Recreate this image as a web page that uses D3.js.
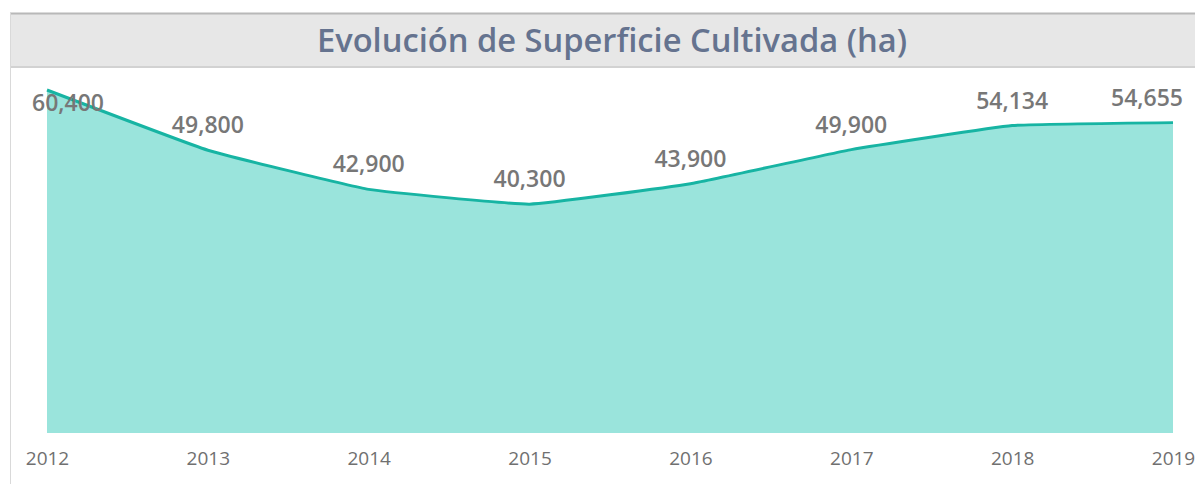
<!DOCTYPE html>
<html>
<head>
<meta charset="utf-8">
<script src="https://cdn.jsdelivr.net/npm/d3@7"></script>
<style>
  body { margin: 0; background: #fff; }
</style>
</head>
<body>
<div id="chart"></div>
<script>
// data
var years = ['2012', '2013', '2014', '2015', '2016', '2017', '2018', '2019'];
var hectares = [60400, 49800, 42900, 40300, 43900, 49900, 54134, 54655];

var svgWidth = 1195;
var svgHeight = 484;

var svg = d3.select('#chart')
    .append('svg')
    .attr('width', svgWidth)
    .attr('height', svgHeight)
    .style('font-family', "'Open Sans', 'Noto Sans', sans-serif");

// title band
svg.append('rect')
    .attr('x', 10).attr('y', 13)
    .attr('width', svgWidth).attr('height', 54)
    .attr('fill', '#e7e7e7');
svg.append('line')
    .attr('x1', 10).attr('x2', svgWidth).attr('y1', 13.5).attr('y2', 13.5)
    .attr('stroke', '#b8b8b8').attr('stroke-width', 2);
svg.append('line')
    .attr('x1', 10).attr('x2', svgWidth).attr('y1', 67).attr('y2', 67)
    .attr('stroke', '#d2d2d2').attr('stroke-width', 2);
svg.append('line')
    .attr('x1', 10.5).attr('x2', 10.5).attr('y1', 13).attr('y2', svgHeight)
    .attr('stroke', '#d9d9d9').attr('stroke-width', 1);

svg.append('text')
    .attr('x', 317).attr('y', 52)
    .attr('textLength', 590)
    .attr('lengthAdjust', 'spacingAndGlyphs')
    .style('font-size', '32px')
    .style('font-weight', '600')
    .style('fill', '#65738f')
    .text('Evolución de Superficie Cultivada (ha)');

// scales
var xScale = d3.scalePoint()
    .domain(years)
    .range([47, 1173]);

var yScale = d3.scaleLinear()
    .domain([0, 60400])
    .range([433, 90]);

var data = years.map(function(y, i) { return { year: y, value: hectares[i] }; });

var area = d3.area()
    .x(d => xScale(d.year))
    .y0(yScale(0))
    .y1(d => yScale(d.value))
    .curve(d3.curveCardinal.tension(0.7));

var line = d3.line()
    .x(d => xScale(d.year))
    .y(d => yScale(d.value))
    .curve(d3.curveCardinal.tension(0.7));

svg.append('path')
    .datum(data)
    .attr('d', area)
    .attr('fill', '#9ae4dc');

svg.append('path')
    .datum(data)
    .attr('d', line)
    .attr('fill', 'none')
    .attr('stroke', '#17b4a3')
    .attr('stroke-width', 3);

// x axis
var xAxis = d3.axisBottom(xScale).tickSize(0).tickPadding(0);
var gx = svg.append('g')
    .attr('transform', 'translate(0, 465)')
    .call(xAxis);
gx.select('.domain').remove();
gx.selectAll('text')
    .attr('dy', 0)
    .style('font-size', '19px')
    .style('font-family', "'Open Sans', 'Noto Sans', sans-serif")
    .style('fill', '#707070');

// data labels
var fmt = d3.format(',');
var last = data.length - 1;
svg.selectAll('.label')
    .data(data)
    .enter()
    .append('text')
    .attr('class', 'label')
    .attr('x', (d, i) => i === 0 ? xScale(d.year) - 15 : i === last ? xScale(d.year) + 10 : xScale(d.year))
    .attr('y', (d, i) => i === 0 ? yScale(d.value) + 21 : yScale(d.value) - 17)
    .attr('text-anchor', (d, i) => i === 0 ? 'start' : i === last ? 'end' : 'middle')
    .style('font-size', '23px')
    .style('font-weight', '600')
    .style('fill', '#777')
    .text(d => fmt(d.value));
</script>
</body>
</html>
